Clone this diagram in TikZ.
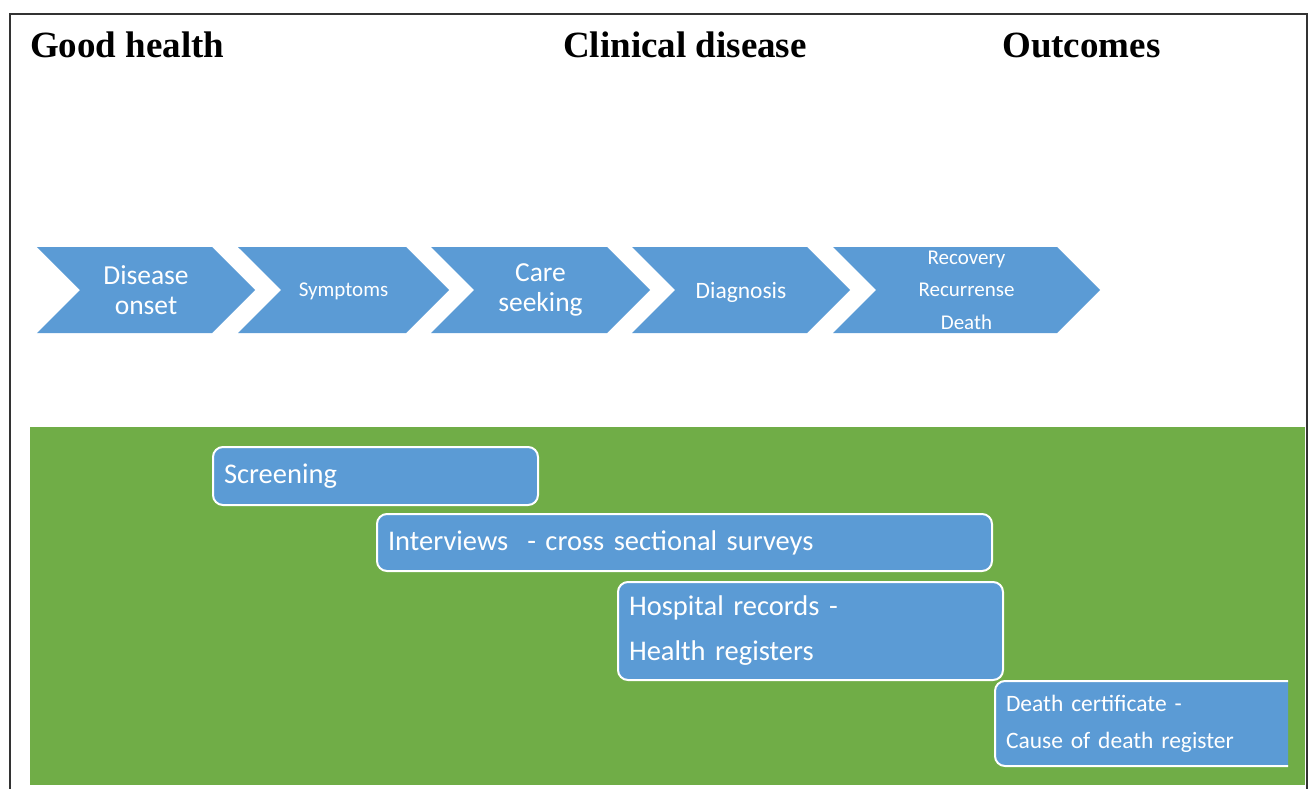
\documentclass[tikz,border=0pt]{standalone}
\usepackage{fontspec}
\setmainfont{Liberation Serif}
\newfontfamily\calibri{Carlito}
\usetikzlibrary{shapes.symbols}
\definecolor{stageblue}{HTML}{5B9BD5}
\definecolor{sourcegreen}{HTML}{70AD47}
\tikzstyle{heading} = [anchor=base west, inner sep=0pt, font=\fontsize{37}{40}\selectfont\bfseries]
\tikzstyle{stage} = [signal, signal from=west, signal to=east, signal pointer angle=90, fill=stageblue, text=white, minimum height=86pt, inner xsep=0pt, inner ysep=0pt, align=center]
\tikzstyle{source} = [rectangle, rounded corners=10pt, draw=white, line width=2pt, fill=stageblue, text=white, anchor=north west, align=left, inner xsep=11pt, font=\calibri\fontsize{28.5}{45}\selectfont]

\begin{document}
\begin{tikzpicture}[x=1pt, y=-1pt]

    \useasboundingbox (0,0) rectangle (1311,789);

    % Frame
    \draw [black!80, line width=1.5pt] (10,789) -- (10,14) -- (1307,14) -- (1307,789);

    % Headings
    \node (good) [heading] at (30,58) {Good health};
    \node (clinical) [heading] at (563,58) {Clinical disease};
    \node (outcomes) [heading] at (1002,58) {Outcomes};

    % Stages
    \node (onset) [stage, text width=132pt, font=\calibri\fontsize{27.5}{30}\selectfont] at (146,290) {Disease\\onset};
    \node (symptoms) [stage, text width=125pt, text depth=0pt, font=\calibri\fontsize{21}{24}\selectfont] at (343.5,290) {Symptoms};
    \node (care) [stage, text width=133pt, font=\calibri\fontsize{27.5}{30}\selectfont] at (540.5,290) {Care\\seeking};
    \node (diagnosis) [stage, text width=132pt, text depth=0pt, font=\calibri\fontsize{23.5}{28}\selectfont] at (741,290) {Diagnosis};
    \node (result) [stage, text width=181pt, font=\calibri\fontsize{21}{32.5}\selectfont] at (966.5,290) {Recovery\\Recurrense\\Death};

    % Data sources
    \fill [sourcegreen] (30,427) rectangle (1305,785);

    \node (screening) [source, text width=303pt, minimum height=58pt] at (212,446) {Screening};
    \node (interviews) [source, text width=593pt, minimum height=57pt] at (376,513) {Interviews \ - cross sectional surveys};
    \node (hospital) [source, text width=363pt, minimum height=98pt] at (617,581) {Hospital records -\\Health registers};
    \begin{scope}
        \clip (980,670) rectangle (1288,775);
        \node (death) [source, text width=308pt, minimum height=85pt, font=\calibri\fontsize{23.5}{37}\selectfont] at (994,680) {Death certificate -\\Cause of death register};
    \end{scope}

\end{tikzpicture}
\end{document}
